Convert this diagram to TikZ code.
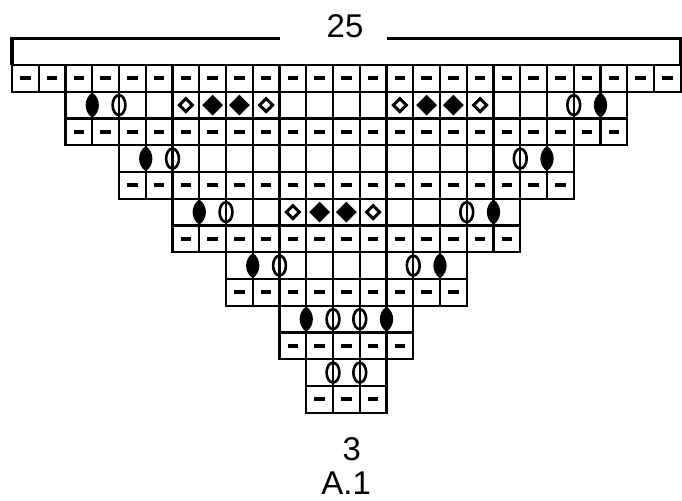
\documentclass[tikz,border=0pt]{standalone}
\usepackage{fontspec}
\setmainfont{Liberation Sans}
\usetikzlibrary{calc}
\tikzset{
  gridline/.style={line width=1.1pt, color=black},
  bracketline/.style={line width=1.8pt, color=black},
  purlbar/.style={fill=black},
  yarnover/.style={line width=1.4pt},
  bobble/.style={line width=1.6pt, line join=miter},
  chartlabel/.style={font=\fontsize{17.5}{20}\selectfont, inner sep=0pt},
  leanyo/.pic={
    \fill (0,0.47) .. controls (0.33,0.25) and (0.33,-0.25) .. (0,-0.47)
      .. controls (-0.33,-0.25) and (-0.33,0.25) .. (0,0.47) -- cycle;
  },
  openyo/.pic={
    \draw[yarnover] (0,0) ellipse [x radius=0.24, y radius=0.37];
  },
  holediamond/.pic={
    \draw[bobble] (0,0.24) -- (0.24,0) -- (0,-0.24) -- (-0.24,0) -- cycle;
  },
  solidiamond/.pic={
    \fill (0,0.39) -- (0.39,0) -- (0,-0.39) -- (-0.39,0) -- cycle;
  },
}

\begin{document}
\begin{tikzpicture}[x=0.5cm, y=0.5cm]
  \useasboundingbox (-0.449,2.43) rectangle (25.047,-16.299);

  % Stitch count bracket
  \draw[bracketline] (10,1) -- (0,1) -- (0,0);
  \draw[bracketline] (14,1) -- (25,1) -- (25,0);
  \node[chartlabel, anchor=base] (counttop) at (12.45,1.02) {25};

  % Chart rows
  \foreach \r/\a/\b in {0/0/25, 1/2/23, 2/2/23, 3/4/21, 4/4/21, 5/6/19,
      6/6/19, 7/8/17, 8/8/17, 9/10/15, 10/10/15, 11/11/14, 12/11/14} {
    \foreach \c in {\a,...,\b}
      \draw[gridline] (\c,-\r) -- (\c,-\r-1);
    \draw[gridline] (\a,-\r) rectangle (\b,-\r-1);
  }

  % Purl bars
  \foreach \r/\a/\b in {0/0/24, 2/2/22, 4/4/20, 6/6/18, 8/8/16, 10/10/14, 12/11/13}
    \foreach \c in {\a,...,\b}
      \fill[purlbar] (\c+0.3,-\r-0.575) rectangle (\c+0.7,-\r-0.425);

  % Yarn overs on the lines
  \foreach \x/\r in {3/1, 22/1, 5/3, 20/3, 7/5, 18/5, 9/7, 16/7, 11/9, 14/9}
    \pic at (\x,-\r-0.5) {leanyo};
  \foreach \x/\r in {4/1, 21/1, 6/3, 19/3, 8/5, 17/5, 10/7, 15/7, 12/9, 13/9,
      12/11, 13/11}
    \pic at (\x,-\r-0.5) {openyo};

  % Diamonds
  \foreach \c/\r in {6/1, 9/1, 14/1, 17/1, 10/5, 13/5}
    \pic at (\c+0.5,-\r-0.5) {holediamond};
  \foreach \c/\r in {7/1, 8/1, 15/1, 16/1, 11/5, 12/5}
    \pic at (\c+0.5,-\r-0.5) {solidiamond};

  % Bottom labels
  \node[chartlabel, anchor=base] (countbottom) at (12.7,-14.77) {3};
  \node[chartlabel, anchor=base] (chartname) at (12.49,-16.07) {A.1};
\end{tikzpicture}
\end{document}
